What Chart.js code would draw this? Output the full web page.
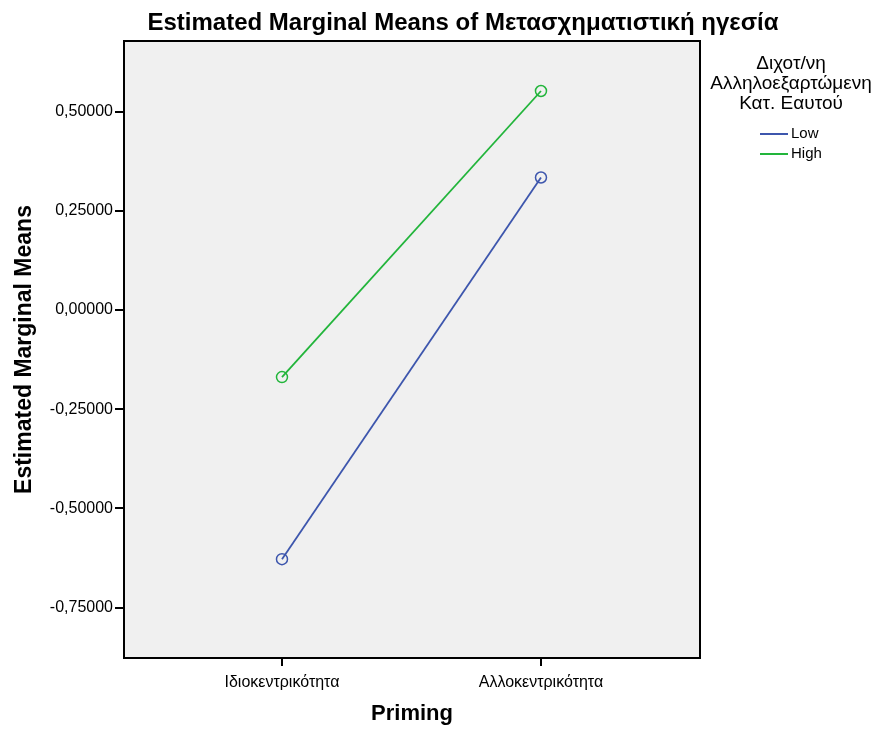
<!DOCTYPE html>
<html><head><meta charset="utf-8">
<script src="https://cdn.jsdelivr.net/npm/chart.js@4/dist/chart.umd.min.js"></script>
<style>html,body{margin:0;padding:0;background:#fff}#wrap{width:883px;height:731px;position:relative}</style>
</head><body><div id="wrap"><canvas id="c"></canvas></div>
<script>
const categories = ['Ιδιοκεντρικότητα', 'Αλλοκεντρικότητα'];
const seriesNames = ['Low', 'High'];
const lowValues = [-0.628, 0.334];
const highValues = [-0.169, 0.552];
const yTicks = [-0.75, -0.5, -0.25, 0, 0.25, 0.5];
const chartTitle = 'Estimated Marginal Means of Μετασχηματιστική ηγεσία';
const legendTitle = ['Διχοτ/νη', 'Αλληλοεξαρτώμενη', 'Κατ. Εαυτού'];
const xTitle = 'Priming';
const yTitle = 'Estimated Marginal Means';

const FONT = '"Liberation Sans", Arial, sans-serif';
const colors = ['#3d56ad', '#22b53b'];

function toPoints(vals) { return vals.map((v, i) => ({x: i, y: v})); }

const decor = {
  id: 'decor',
  beforeDraw(chart) {
    const {ctx, chartArea: a} = chart;
    ctx.save();
    ctx.fillStyle = '#f0f0f0';
    ctx.fillRect(a.left, a.top, a.right - a.left, a.bottom - a.top);
    ctx.restore();
  },
  afterDraw(chart) {
    const {ctx, chartArea: a} = chart;
    ctx.save();
    ctx.strokeStyle = '#000';
    ctx.lineWidth = 2;
    ctx.strokeRect(a.left, a.top, a.right - a.left, a.bottom - a.top);
    ctx.fillStyle = '#000';
    ctx.textAlign = 'center';
    ctx.textBaseline = 'middle';
    ctx.font = 'bold 24px ' + FONT;
    ctx.fillText(chartTitle, 463, 23);
    ctx.font = '19px ' + FONT;
    legendTitle.forEach((t, i) => ctx.fillText(t, 791, 64 + i * 20));
    ctx.font = '15px ' + FONT;
    chart.data.datasets.forEach((ds, i) => {
      const y = 134 + i * 20;
      ctx.strokeStyle = ds.borderColor;
      ctx.lineWidth = 2;
      ctx.beginPath(); ctx.moveTo(760, y); ctx.lineTo(788, y); ctx.stroke();
      ctx.textAlign = 'left';
      ctx.fillStyle = '#000';
      ctx.fillText(ds.label, 791, y);
    });
    ctx.restore();
  }
};

new Chart(document.getElementById('c'), {
  type: 'line',
  data: {
    datasets: [
      {label: seriesNames[0], data: toPoints(lowValues), borderColor: colors[0], backgroundColor: 'rgba(0,0,0,0)',
       borderWidth: 1.8, pointRadius: 5.5, pointBorderWidth: 1.5, pointBackgroundColor: 'rgba(0,0,0,0)', pointBorderColor: colors[0]},
      {label: seriesNames[1], data: toPoints(highValues), borderColor: colors[1], backgroundColor: 'rgba(0,0,0,0)',
       borderWidth: 1.8, pointRadius: 5.5, pointBorderWidth: 1.5, pointBackgroundColor: 'rgba(0,0,0,0)', pointBorderColor: colors[1]}
    ]
  },
  options: {
    responsive: true,
    maintainAspectRatio: false,
    animation: false,
    devicePixelRatio: 1,
    layout: {padding: {left: 0, top: 41, right: 183, bottom: 0}},
    plugins: {legend: {display: false}, title: {display: false}, tooltip: {enabled: false}},
    scales: {
      x: {
        type: 'linear', min: -0.61, max: 1.614,
        afterBuildTicks: s => { s.ticks = [0, 1].map(v => ({value: v})); },
        afterFit: s => { s.height = 73; },
        ticks: {callback: v => categories[v], color: '#000', font: {family: FONT, size: 16}, padding: 7, autoSkip: false, maxRotation: 0},
        grid: {drawOnChartArea: false, drawTicks: true, tickLength: 8, color: '#000', lineWidth: 2},
        border: {display: true, color: '#000', width: 2},
        title: {display: true, text: xTitle, color: '#000', font: {family: FONT, size: 22, weight: 'bold'}, padding: {top: 0, bottom: 4}}
      },
      y: {
        type: 'linear', min: -0.877, max: 0.678,
        afterBuildTicks: s => { s.ticks = yTicks.map(v => ({value: v})); },
        afterFit: s => { s.width = 124; },
        ticks: {callback: v => v.toFixed(5).replace('.', ','), color: '#000', font: {family: FONT, size: 16}, padding: 2},
        grid: {drawOnChartArea: false, drawTicks: true, tickLength: 9, color: '#000', lineWidth: 2},
        border: {display: true, color: '#000', width: 2},
        title: {display: true, text: yTitle, color: '#000', font: {family: FONT, size: 23, weight: 'bold'}, padding: {top: 11, bottom: 0}}
      }
    }
  },
  plugins: [decor]
});
</script></body></html>
